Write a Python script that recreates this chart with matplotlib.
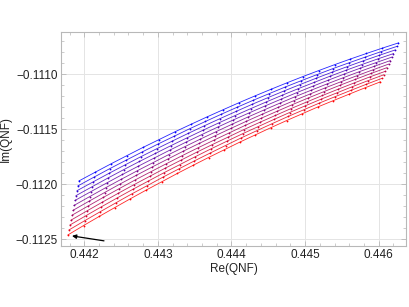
import matplotlib
matplotlib.use("Agg")
import matplotlib.pyplot as plt
from matplotlib.ticker import MultipleLocator

# ── données : une ligne par courbe (bleu en haut → rouge en bas)
RE = [
    [0.441928, 0.442145, 0.442362, 0.442579, 0.442796, 0.443013, 0.443230, 0.443447, 0.443664, 0.443881, 0.444098,
     0.444315, 0.444532, 0.444749, 0.444966, 0.445183, 0.445400, 0.445617, 0.445834, 0.446051, 0.446268],
    [0.441914, 0.442131, 0.442347, 0.442564, 0.442780, 0.442997, 0.443214, 0.443430, 0.443647, 0.443863, 0.444080,
     0.444297, 0.444513, 0.444730, 0.444946, 0.445163, 0.445380, 0.445596, 0.445813, 0.446029, 0.446246],
    [0.441901, 0.442117, 0.442333, 0.442549, 0.442765, 0.442982, 0.443198, 0.443414, 0.443630, 0.443846, 0.444062,
     0.444278, 0.444494, 0.444710, 0.444926, 0.445143, 0.445359, 0.445575, 0.445791, 0.446007, 0.446223],
    [0.441887, 0.442103, 0.442318, 0.442534, 0.442750, 0.442966, 0.443181, 0.443397, 0.443613, 0.443828, 0.444044,
     0.444260, 0.444475, 0.444691, 0.444907, 0.445123, 0.445338, 0.445554, 0.445770, 0.445985, 0.446201],
    [0.441873, 0.442088, 0.442304, 0.442519, 0.442734, 0.442950, 0.443165, 0.443380, 0.443595, 0.443811, 0.444026,
     0.444241, 0.444457, 0.444672, 0.444887, 0.445103, 0.445318, 0.445533, 0.445748, 0.445964, 0.446179],
    [0.441860, 0.442075, 0.442290, 0.442505, 0.442719, 0.442934, 0.443149, 0.443364, 0.443579, 0.443794, 0.444009,
     0.444223, 0.444438, 0.444653, 0.444868, 0.445083, 0.445298, 0.445512, 0.445727, 0.445942, 0.446157],
    [0.441846, 0.442060, 0.442275, 0.442489, 0.442704, 0.442918, 0.443132, 0.443347, 0.443561, 0.443776, 0.443990,
     0.444204, 0.444419, 0.444633, 0.444848, 0.445062, 0.445276, 0.445491, 0.445705, 0.445920, 0.446134],
    [0.441833, 0.442047, 0.442261, 0.442475, 0.442689, 0.442903, 0.443117, 0.443331, 0.443545, 0.443759, 0.443973,
     0.444186, 0.444400, 0.444614, 0.444828, 0.445042, 0.445256, 0.445470, 0.445684, 0.445898, 0.446112],
    [0.441819, 0.442033, 0.442246, 0.442460, 0.442673, 0.442887, 0.443100, 0.443314, 0.443527, 0.443741, 0.443955,
     0.444168, 0.444382, 0.444595, 0.444809, 0.445022, 0.445236, 0.445449, 0.445663, 0.445876, 0.446090],
    [0.441805, 0.442018, 0.442231, 0.442444, 0.442658, 0.442871, 0.443084, 0.443297, 0.443510, 0.443723, 0.443937,
     0.444150, 0.444363, 0.444576, 0.444789, 0.445002, 0.445216, 0.445429, 0.445642, 0.445855, 0.446068],
    [0.441792, 0.442005, 0.442217, 0.442430, 0.442643, 0.442855, 0.443068, 0.443281, 0.443493, 0.443706, 0.443919,
     0.444131, 0.444344, 0.444556, 0.444769, 0.444982, 0.445194, 0.445407, 0.445620, 0.445832, 0.446045],
    [0.441778, 0.441990, 0.442203, 0.442415, 0.442627, 0.442839, 0.443052, 0.443264, 0.443476, 0.443688, 0.443901,
     0.444113, 0.444325, 0.444537, 0.444749, 0.444962, 0.445174, 0.445386, 0.445599, 0.445811, 0.446023],
]

IM = [
    [-0.111970, -0.111892, -0.111815, -0.111740, -0.111666, -0.111595, -0.111524, -0.111456, -0.111389, -0.111324, -0.111260,
     -0.111198, -0.111138, -0.111079, -0.111022, -0.110967, -0.110913, -0.110861, -0.110811, -0.110762, -0.110715],
    [-0.112015, -0.111936, -0.111858, -0.111783, -0.111709, -0.111636, -0.111566, -0.111496, -0.111429, -0.111363, -0.111299,
     -0.111236, -0.111176, -0.111116, -0.111059, -0.111003, -0.110948, -0.110896, -0.110845, -0.110795, -0.110747],
    [-0.112059, -0.111980, -0.111902, -0.111826, -0.111751, -0.111678, -0.111607, -0.111537, -0.111469, -0.111403, -0.111338,
     -0.111274, -0.111213, -0.111153, -0.111095, -0.111038, -0.110983, -0.110930, -0.110878, -0.110828, -0.110779],
    [-0.112104, -0.112024, -0.111945, -0.111868, -0.111793, -0.111720, -0.111648, -0.111578, -0.111509, -0.111442, -0.111377,
     -0.111313, -0.111251, -0.111190, -0.111131, -0.111074, -0.111018, -0.110964, -0.110912, -0.110861, -0.110812],
    [-0.112148, -0.112068, -0.111989, -0.111911, -0.111836, -0.111762, -0.111689, -0.111618, -0.111549, -0.111481, -0.111415,
     -0.111351, -0.111288, -0.111227, -0.111167, -0.111109, -0.111053, -0.110998, -0.110945, -0.110894, -0.110844],
    [-0.112193, -0.112112, -0.112032, -0.111954, -0.111878, -0.111804, -0.111730, -0.111659, -0.111589, -0.111521, -0.111454,
     -0.111389, -0.111326, -0.111264, -0.111203, -0.111145, -0.111088, -0.111033, -0.110979, -0.110927, -0.110876],
    [-0.112238, -0.112156, -0.112076, -0.111997, -0.111920, -0.111845, -0.111772, -0.111699, -0.111629, -0.111560, -0.111493,
     -0.111427, -0.111363, -0.111301, -0.111240, -0.111181, -0.111123, -0.111067, -0.111013, -0.110960, -0.110908],
    [-0.112282, -0.112200, -0.112119, -0.112040, -0.111962, -0.111887, -0.111813, -0.111740, -0.111669, -0.111600, -0.111532,
     -0.111465, -0.111401, -0.111338, -0.111276, -0.111216, -0.111158, -0.111101, -0.111046, -0.110992, -0.110940],
    [-0.112327, -0.112244, -0.112163, -0.112083, -0.112005, -0.111929, -0.111854, -0.111781, -0.111709, -0.111639, -0.111571,
     -0.111503, -0.111438, -0.111375, -0.111312, -0.111252, -0.111193, -0.111136, -0.111080, -0.111025, -0.110973],
    [-0.112371, -0.112288, -0.112206, -0.112126, -0.112047, -0.111971, -0.111895, -0.111822, -0.111749, -0.111678, -0.111609,
     -0.111541, -0.111476, -0.111411, -0.111348, -0.111287, -0.111227, -0.111170, -0.111113, -0.111058, -0.111005],
    [-0.112416, -0.112332, -0.112250, -0.112169, -0.112089, -0.112013, -0.111936, -0.111862, -0.111789, -0.111718, -0.111648,
     -0.111579, -0.111513, -0.111448, -0.111384, -0.111323, -0.111262, -0.111204, -0.111147, -0.111091, -0.111037],
    [-0.112461, -0.112376, -0.112293, -0.112212, -0.112132, -0.112054, -0.111978, -0.111902, -0.111829, -0.111757, -0.111687,
     -0.111617, -0.111551, -0.111485, -0.111421, -0.111359, -0.111297, -0.111239, -0.111181, -0.111124, -0.111069],
]

X_TICKS = [0.442, 0.443, 0.444, 0.445, 0.446]
X_LABELS = ["0.442", "0.443", "0.444", "0.445", "0.446"]
Y_TICKS = [-0.1125, -0.1120, -0.1115, -0.1110]
Y_LABELS = ["\u22120.1125", "\u22120.1120", "\u22120.1115", "\u22120.1110"]

# flèche : pointe vers le départ de la courbe rouge
ARROW_HEAD = (0.441833, -0.112470)
ARROW_TAIL = (0.442268, -0.112515)

plt.rcParams["font.family"] = ["Liberation Sans", "DejaVu Sans"]

fig = plt.figure(figsize=(4.09, 3.07), dpi=100)
ax = fig.add_axes([0.149, 0.199, 0.844, 0.697])

n = len(RE)
for i in range(n):
    t = i / (n - 1)
    col = (t, 0.0, 1.0 - t)
    ax.plot(RE[i], IM[i], "-", color=col, lw=0.6, alpha=0.85)
    ax.plot(RE[i], IM[i], "o", color=col, ms=1.3, mew=0)

ax.annotate("", xy=ARROW_HEAD, xytext=ARROW_TAIL,
            arrowprops=dict(arrowstyle="-|>", color="black", lw=0.9,
                            mutation_scale=6, shrinkA=0, shrinkB=0))

ax.set_xlim(0.441683, 0.446373)
ax.set_ylim(-0.112561, -0.110615)

ax.set_xticks(X_TICKS)
ax.set_xticklabels(X_LABELS)
ax.set_yticks(Y_TICKS)
ax.set_yticklabels(Y_LABELS)
ax.xaxis.set_minor_locator(MultipleLocator(0.0002))
ax.yaxis.set_minor_locator(MultipleLocator(0.0001))

ax.grid(True, which="major", color="#e4e4e4", lw=0.7)
ax.set_axisbelow(True)
for sp in ax.spines.values():
    sp.set_color("#b8b8b8")
    sp.set_linewidth(0.8)
ax.tick_params(which="both", direction="in", top=True, right=True,
               color="#b8b8b8", labelsize=8.5, labelcolor="#222222")
ax.tick_params(which="major", length=3.5, width=0.6, pad=2)
ax.tick_params(which="minor", length=2, width=0.5)

ax.set_xlabel("Re(QNF)", fontsize=8.5, color="#222222", labelpad=2)
ax.set_ylabel("Im(QNF)", fontsize=8.5, color="#222222", labelpad=3)

plt.savefig("out.png", dpi=100)
